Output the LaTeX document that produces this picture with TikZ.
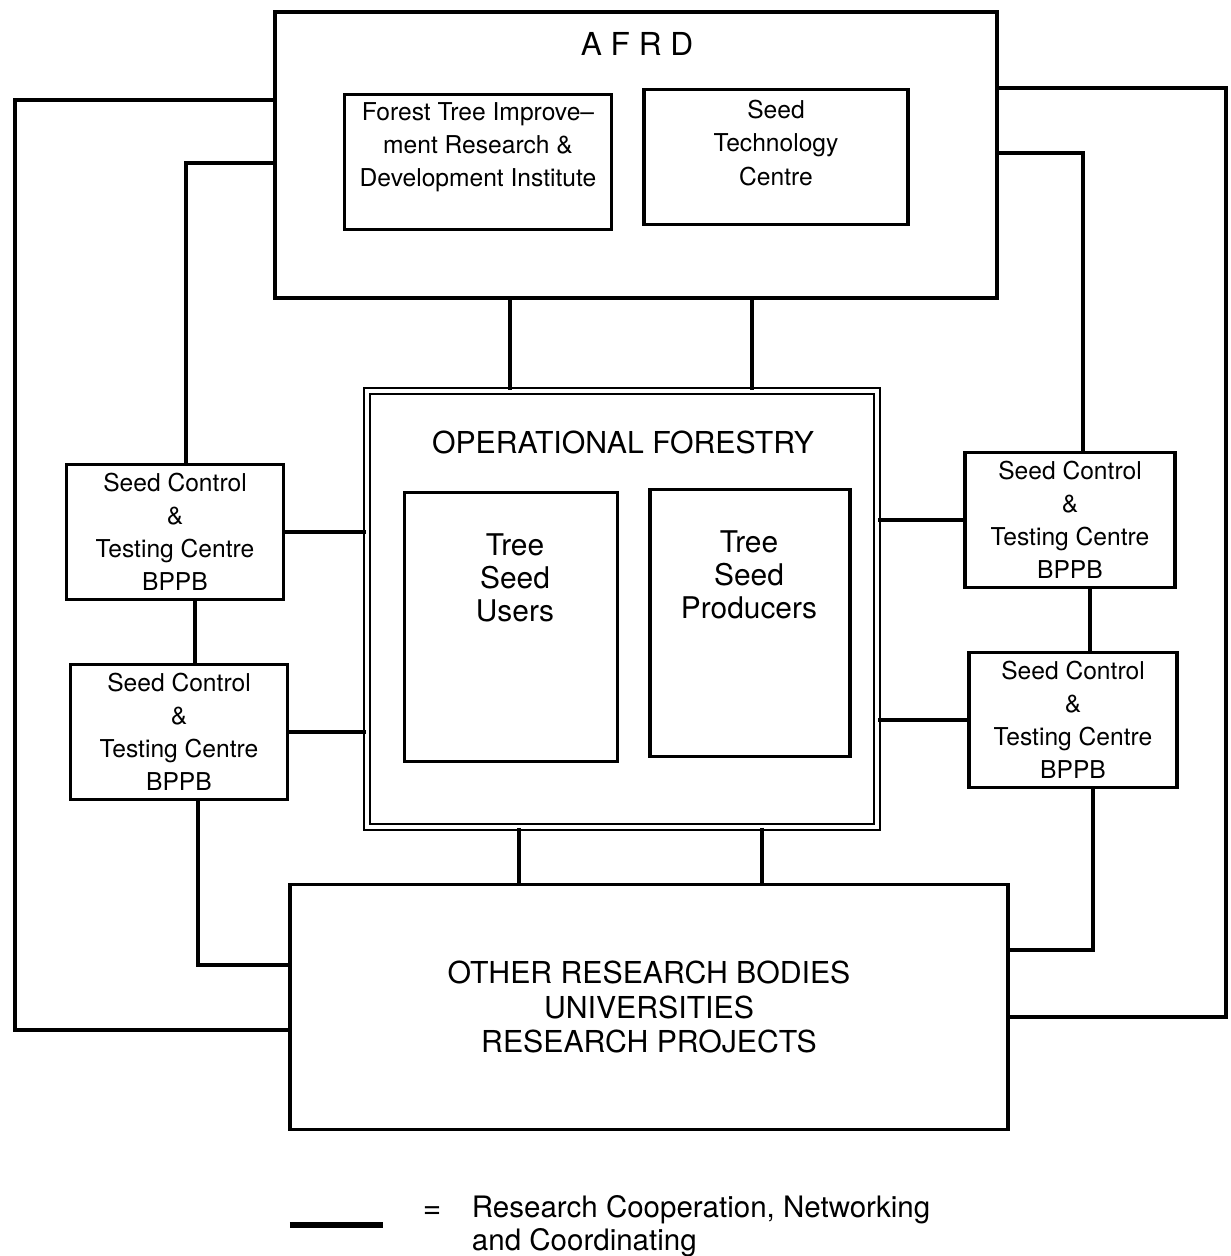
\documentclass[tikz,border=0pt]{standalone}
\usepackage{fontspec}
\setmainfont{TeX Gyre Heros}
\usetikzlibrary{positioning}
\begin{document}
\begin{tikzpicture}[x=0.1mm, y=-0.1mm, line width=1.1pt,
  every node/.append style={align=center, inner sep=0pt},
  unit/.style={draw, line width=1pt},
  small/.style={font=\fontsize{7}{9.4}\selectfont},
  big/.style={font=\fontsize{8.6}{9.9}\selectfont}]
  \useasboundingbox (0,0) rectangle (1231,1256);
  % AFRD with its two institutes
  \node[unit, minimum width=72.2mm, minimum height=28.6mm] (afrd) at (636,155) {};
  \node[font=\fontsize{9}{10}\selectfont] (afrdtitle) at (637,44) {A F R D};
  \node[unit, minimum width=26.7mm, minimum height=13.5mm] (fti) at (478,162) {};
  \node[small] (ftitext) at (478,147) {Forest Tree Improve--\\ment Research \&\\Development Institute};
  \node[unit, minimum width=26.4mm, minimum height=13.5mm] (stc) at (776,157) {};
  \node[small] (stctext) at (776,143) {Seed\\Technology\\Centre};
  % operational forestry
  \node[draw, double, double distance=1.4pt, line width=0.5pt, minimum width=51mm, minimum height=43.6mm] (opf) at (622,609) {};
  \node[big] (opftitle) at (623,442) {OPERATIONAL FORESTRY};
  \node[unit, minimum width=21.3mm, minimum height=26.9mm] (users) at (511,627) {};
  \node[font=\fontsize{8.5}{9.4}\selectfont] (userstext) at (515,578) {Tree\\Seed\\Users};
  \node[unit, minimum width=20mm, minimum height=26.7mm] (prod) at (750,623) {};
  \node[font=\fontsize{8.5}{9.4}\selectfont] (prodtext) at (749,575) {Tree\\Seed\\Producers};
  % seed control and testing centres
  \node[unit, small, minimum width=21.7mm, minimum height=13.5mm] (lsca) at (175,532) {Seed Control\\\&\\Testing Centre\\BPPB};
  \node[unit, small, minimum width=21.7mm, minimum height=13.5mm] (lscb) at (179,732) {Seed Control\\\&\\Testing Centre\\BPPB};
  \node[unit, small, minimum width=21mm, minimum height=13.5mm] (rsca) at (1070,520) {Seed Control\\\&\\Testing Centre\\BPPB};
  \node[unit, small, minimum width=20.8mm, minimum height=13.5mm] (rscb) at (1073,720) {Seed Control\\\&\\Testing Centre\\BPPB};
  % other bodies
  \node[unit, big, minimum width=71.8mm, minimum height=24.5mm] (other) at (649,1007) {OTHER RESEARCH BODIES\\UNIVERSITIES\\RESEARCH PROJECTS};
  % bend points of the links
  \coordinate (ua) at (510,0);   \coordinate (ub) at (752,0);
  \coordinate (da) at (519,0);   \coordinate (db) at (762,0);
  \coordinate (la) at (186,163); \coordinate (lb) at (195,0);  \coordinate (lc) at (198,965);
  \coordinate (ra) at (1083,153);\coordinate (rb) at (1090,0); \coordinate (rc) at (1093,950);
  \coordinate (lo) at (15,100);  \coordinate (lu) at (15,1030);
  \coordinate (ro) at (1226,88); \coordinate (ru) at (1226,1017);
  % links
  \draw (afrd.south -| ua) -- (opf.north -| ua);  \draw (afrd.south -| ub) -- (opf.north -| ub);
  \draw (opf.south -| da) -- (other.north -| da); \draw (opf.south -| db) -- (other.north -| db);
  \draw (lsca.east) -- (lsca.east -| opf.west);   \draw (lscb.east) -- (lscb.east -| opf.west);
  \draw (rsca.west) -- (rsca.west -| opf.east);   \draw (rscb.west) -- (rscb.west -| opf.east);
  \draw (lsca.north -| la) |- (afrd.west |- la);
  \draw (lsca.south -| lb) -- (lscb.north -| lb);
  \draw (lscb.south -| lc) |- (other.west |- lc);
  \draw (rsca.north -| ra) |- (afrd.east |- ra);
  \draw (rsca.south -| rb) -- (rscb.north -| rb);
  \draw (rscb.south -| rc) |- (other.east |- rc);
  \draw (afrd.west |- lo) -- (lo) -- (lu) -- (other.west |- lu);
  \draw (afrd.east |- ro) -- (ro) -- (ru) -- (other.east |- ru);
  % legend
  \draw[line width=1.8pt] (290,1225) -- (383,1225);
  \node[font=\fontsize{9}{9.6}\selectfont] (eq) at (432,1213) {=};
  \node[font=\fontsize{8.4}{9.6}\selectfont, align=left, anchor=north west] (legend) at (470,1193) {Research Cooperation, Networking\\and Coordinating};
\end{tikzpicture}
\end{document}
